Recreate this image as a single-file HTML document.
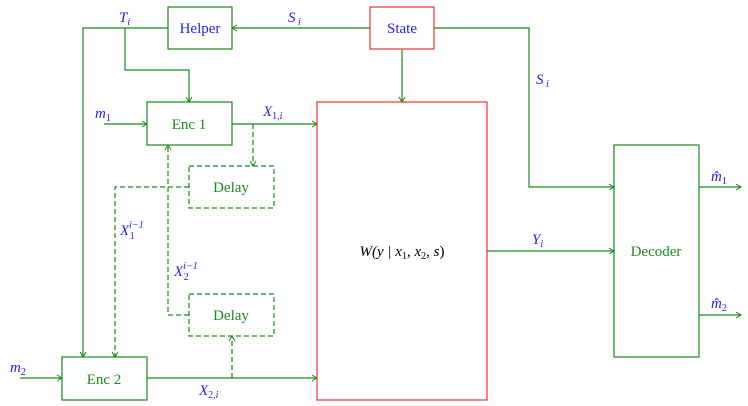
<!DOCTYPE html>
<html><head><meta charset="utf-8"><style>
html,body{margin:0;padding:0;background:#fff;}
svg{display:block;}
text{font-family:"Liberation Serif",serif;}
.g{fill:#1a8a1a;font-size:15px;}
.b{fill:#2222ee;font-size:15px;}
.bi{fill:#2222ee;font-size:15px;font-style:italic;}
</style></head><body>
<svg width="748" height="406" viewBox="0 0 748 406" xmlns="http://www.w3.org/2000/svg">
<defs>
<marker id="a" markerWidth="8" markerHeight="8" refX="6" refY="4" orient="auto" markerUnits="userSpaceOnUse">
<path d="M1,1 L6,4 L1,7" fill="none" stroke="#1a8a1a" stroke-width="1"/>
</marker>
</defs>
<g fill="none" stroke="#1a8a1a" stroke-width="1.2">
<rect x="168" y="7" width="64" height="42"/>
<rect x="147" y="102" width="85" height="43"/>
<rect x="62" y="357" width="85" height="43"/>
<rect x="614" y="145" width="85" height="212"/>
<rect x="189" y="166" width="85" height="42" stroke-dasharray="5,3"/>
<rect x="189" y="294" width="85" height="42" stroke-dasharray="5,3"/>
<path d="M370,28 L232,28" marker-end="url(#a)"/>
<path d="M168,28 L83,28 L83,357" marker-end="url(#a)"/>
<path d="M125,28 L125,70 L189,70 L189,102" marker-end="url(#a)"/>
<path d="M104,124 L147,124" marker-end="url(#a)"/>
<path d="M232,124 L317,124" marker-end="url(#a)"/>
<path d="M20,378 L62,378" marker-end="url(#a)"/>
<path d="M147,378 L317,378" marker-end="url(#a)"/>
<path d="M402,49 L402,102" marker-end="url(#a)"/>
<path d="M434,28 L529,28 L529,187 L614,187" marker-end="url(#a)"/>
<path d="M487,251 L614,251" marker-end="url(#a)"/>
<path d="M699,187 L741,187" marker-end="url(#a)"/>
<path d="M699,315 L741,315" marker-end="url(#a)"/>
<g stroke-dasharray="5,3">
<path d="M253,124 L253,166" marker-end="url(#a)"/>
<path d="M189,187 L115,187 L115,357" marker-end="url(#a)"/>
<path d="M189,315 L168,315 L168,145" marker-end="url(#a)"/>
<path d="M232,378 L232,336" marker-end="url(#a)"/>
</g>
</g>
<rect x="370" y="7" width="64" height="42" fill="none" stroke="#ee3333" stroke-width="1.2"/>
<rect x="317" y="102" width="170" height="298" fill="none" stroke="#ee3333" stroke-width="1.2"/>
<text class="b" x="200" y="33" text-anchor="middle">Helper</text>
<text class="b" x="402" y="33" text-anchor="middle">State</text>
<text class="g" x="189" y="129" text-anchor="middle">Enc 1</text>
<text class="g" x="104" y="384" text-anchor="middle">Enc 2</text>
<text class="g" x="231" y="192" text-anchor="middle">Delay</text>
<text class="g" x="231" y="320" text-anchor="middle">Delay</text>
<text class="g" x="656" y="256" text-anchor="middle">Decoder</text>
<text x="402" y="256" text-anchor="middle" font-size="15" fill="#000" font-style="italic">W(y | x<tspan font-size="10" dy="3" font-style="normal">1</tspan><tspan dy="-3">, x</tspan><tspan font-size="10" dy="3" font-style="normal">2</tspan><tspan dy="-3">, s</tspan><tspan font-style="normal">)</tspan></text>
<text class="bi" x="119" y="22">T<tspan font-size="10" dy="3">i</tspan></text>
<text class="bi" x="288" y="22">S<tspan font-size="10" dy="3"> i</tspan></text>
<text class="bi" x="536" y="84">S<tspan font-size="10" dy="3"> i</tspan></text>
<text class="bi" x="95" y="118">m<tspan font-size="10" dy="3" font-style="normal">1</tspan></text>
<text class="bi" x="10" y="372">m<tspan font-size="10" dy="3" font-style="normal">2</tspan></text>
<text class="bi" x="263" y="116">X<tspan font-size="10" dy="3" font-style="normal">1,</tspan><tspan font-size="10">i</tspan></text>
<text class="bi" x="199" y="395">X<tspan font-size="10" dy="3" font-style="normal">2,</tspan><tspan font-size="10">i</tspan></text>
<text class="bi" x="120" y="235">X<tspan font-size="10" dy="-7">i−1</tspan><tspan font-size="10" dx="-14" dy="11" font-style="normal">1</tspan></text>
<text class="bi" x="174" y="276">X<tspan font-size="10" dy="-7">i−1</tspan><tspan font-size="10" dx="-14" dy="11" font-style="normal">2</tspan></text>
<text class="bi" x="532" y="244">Y<tspan font-size="10" dy="3">i</tspan></text>
<text class="bi" x="711" y="181">m̂<tspan font-size="10" dy="3" font-style="normal">1</tspan></text>
<text class="bi" x="711" y="308">m̂<tspan font-size="10" dy="3" font-style="normal">2</tspan></text>
</svg>
</body></html>
